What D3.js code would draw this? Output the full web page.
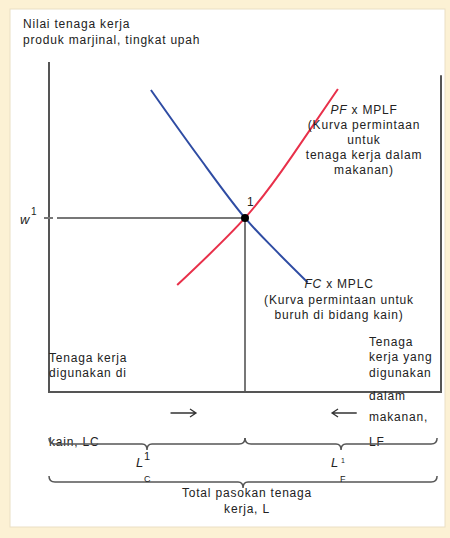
<!DOCTYPE html>
<html>
<head>
<meta charset="utf-8">
<script src="https://cdn.jsdelivr.net/npm/d3@7"></script>
<style>
  body { margin: 0; background: #fcf1d4; }
  svg { display: block; font-family: "Liberation Sans", Arial, sans-serif; }
  text { fill: #222; }
</style>
</head>
<body>
<script>
// Labour (L) on the x axis, wage / value of marginal product on the y axis
const laborDomain = [0, 100];
const wageDomain = [0, 100];

// PC x MPLC (cloth), downward sloping from the left axis
const mplcLabor = [26, 38, 50, 58, 66];
const mplcWage = [91.5, 71.5, 52.6, 42.5, 33];

// PF x MPLF (food), measured from the right axis
const mplfLabor = [32.7, 50, 62, 73.7];
const mplfWage = [32.2, 52.6, 71.4, 91.8];

// equilibrium point 1
const eqLabor = 50;
const eqWage = 52.6;

const width = 450, height = 538;

const svg = d3.select("body").append("svg")
    .attr("width", width)
    .attr("height", height);

// white panel
svg.append("rect")
    .attr("x", 10).attr("y", 9)
    .attr("width", 435).attr("height", 518)
    .attr("fill", "#fff")
    .attr("stroke", "#eadfc4");

// Scales
const x = d3.scaleLinear().domain(laborDomain).range([49, 441]);
const y = d3.scaleLinear().domain(wageDomain).range([391, 62]);

const g = svg.append("g");

// axes (plain lines, no ticks)
g.append("line")
    .attr("x1", x(0)).attr("x2", x(0))
    .attr("y1", y(100)).attr("y2", y(0) + 1)
    .attr("stroke", "#555").attr("stroke-width", 2);
g.append("line")
    .attr("x1", x(100)).attr("x2", x(100))
    .attr("y1", y(96)).attr("y2", y(0) + 1)
    .attr("stroke", "#555").attr("stroke-width", 2);

// w1 guide and vertical at L1
g.append("line")
    .attr("x1", x(0) - 5).attr("x2", x(eqLabor))
    .attr("y1", y(eqWage)).attr("y2", y(eqWage))
    .attr("stroke", "#777").attr("stroke-width", 2)
    .attr("stroke-dasharray", "9,4,400");
g.append("line")
    .attr("x1", x(eqLabor)).attr("x2", x(eqLabor))
    .attr("y1", y(eqWage)).attr("y2", y(0))
    .attr("stroke", "#777").attr("stroke-width", 2);

g.append("line")
    .attr("x1", x(0) - 1).attr("x2", x(100) + 1)
    .attr("y1", y(0) + 1).attr("y2", y(0) + 1)
    .attr("stroke", "#555").attr("stroke-width", 2);

// curves
const lineC = d3.line()
    .x((d) => {return x(d[0])})
    .y((d) => {return y(d[1])})
    .curve(d3.curveCatmullRom.alpha(0.5));
const lineF = d3.line()
    .x((d) => {return x(d[0])})
    .y((d) => {return y(d[1])})
    .curve(d3.curveNatural);

g.append("path")
    .datum(mplcLabor.map((d, i) => {return [d, mplcWage[i]]}))
    .attr("d", lineC)
    .attr("fill", "none")
    .attr("stroke", "#2f4ca3")
    .attr("stroke-width", 2);

g.append("path")
    .datum(mplfLabor.map((d, i) => {return [d, mplfWage[i]]}))
    .attr("d", lineF)
    .attr("fill", "none")
    .attr("stroke", "#e8304a")
    .attr("stroke-width", 2);

g.append("circle")
    .attr("cx", x(eqLabor)).attr("cy", y(eqWage))
    .attr("r", 4).attr("fill", "#000");

g.append("text")
    .attr("x", x(eqLabor) + 2).attr("y", y(eqWage) - 12)
    .attr("font-size", 12)
    .text("1");

// y label
svg.append("text").attr("x", 23).attr("y", 28).attr("font-size", 12)
    .attr("letter-spacing", 0.8).text("Nilai tenaga kerja");
svg.append("text").attr("x", 23).attr("y", 44).attr("font-size", 12)
    .attr("letter-spacing", 0.8).text("produk marjinal, tingkat upah");

// w1
svg.append("text").attr("x", 20).attr("y", 224).attr("font-size", 13)
    .attr("font-style", "italic").text("w");
svg.append("text").attr("x", 31).attr("y", 215).attr("font-size", 10)
    .text("1");

// curve labels
function block(lines, cx, y0, dy) {
    const t = svg.append("text")
        .attr("text-anchor", "middle")
        .attr("font-size", 12)
        .attr("letter-spacing", 0.8);
    lines.forEach((l, i) => {
        const ts = t.append("tspan").attr("x", cx).attr("y", y0 + i * dy);
        if (Array.isArray(l)) {
            ts.append("tspan").attr("font-style", "italic").text(l[0]);
            ts.append("tspan").text(l[1]);
        } else {
            ts.text(l);
        }
    });
}
block([["PF", " x MPLF"], "(Kurva permintaan", "untuk", "tenaga kerja dalam", "makanan)"], 364, 114, 15);
block([["FC", " x MPLC"], "(Kurva permintaan untuk", "buruh di bidang kain)"], 339, 288, 15.5);

// bottom-left text
const leftLines = [["Tenaga kerja", 362], ["digunakan di", 377], ["kain, LC", 446]];
leftLines.forEach((d) => {
    svg.append("text").attr("x", 49).attr("y", d[1])
        .attr("font-size", 12).attr("letter-spacing", 0.8).text(d[0]);
});

const rightLines = [["Tenaga", 346], ["kerja yang", 361], ["digunakan", 377], ["dalam", 400], ["makanan,", 421], ["LF", 446]];
rightLines.forEach((d) => {
    svg.append("text").attr("x", 369).attr("y", d[1])
        .attr("font-size", 12).attr("letter-spacing", 0.8).text(d[0]);
});

// direction arrows (thin, like the text arrows of the original)
function arrow(xa, xb, yy) {
    const dir = xb > xa ? 1 : -1;
    return `M${xa},${yy} L${xb},${yy} M${xb - dir * 6},${yy - 4} L${xb},${yy} L${xb - dir * 6},${yy + 4}`;
}
const arrowG = svg.append("g").attr("fill", "none").attr("stroke", "#333").attr("stroke-width", 1.3);
arrowG.append("path").attr("d", arrow(x(31), x(37.5), 413));
arrowG.append("path").attr("d", arrow(x(78.5), x(72.2), 413));

// braces
function brace(a, b, yy) {
    const x0 = x(a), x1 = x(b), m = (x0 + x1) / 2;
    return `M${x0},${yy - 6} Q${x0},${yy} ${x0 + 6},${yy} L${m - 5},${yy} Q${m},${yy} ${m},${yy + 6}` +
        ` Q${m},${yy} ${m + 5},${yy} L${x1 - 6},${yy} Q${x1},${yy} ${x1},${yy - 6}`;
}
const braceG = svg.append("g").attr("fill", "none").attr("stroke", "#555").attr("stroke-width", 1.5);
braceG.append("path").attr("d", brace(0, eqLabor, 444));
braceG.append("path").attr("d", brace(eqLabor, 99, 444));
braceG.append("path").attr("d", brace(0, 99, 482));

// L1 labels
svg.append("text").attr("x", 136).attr("y", 467).attr("font-size", 13)
    .attr("font-style", "italic").text("L");
svg.append("text").attr("x", 144).attr("y", 460).attr("font-size", 11).text("1");
svg.append("text").attr("x", 144).attr("y", 482).attr("font-size", 9).text("C");

svg.append("text").attr("x", 331).attr("y", 467).attr("font-size", 13)
    .attr("font-style", "italic").text("L");
svg.append("text").attr("x", 341).attr("y", 463).attr("font-size", 7).text("1");
svg.append("text").attr("x", 340).attr("y", 482).attr("font-size", 9).text("F");

svg.append("text").attr("x", 247).attr("y", 497).attr("text-anchor", "middle")
    .attr("font-size", 12).attr("letter-spacing", 0.8).text("Total pasokan tenaga");
svg.append("text").attr("x", 247).attr("y", 513).attr("text-anchor", "middle")
    .attr("font-size", 12).attr("letter-spacing", 0.8).text("kerja, L");
</script>
</body>
</html>
